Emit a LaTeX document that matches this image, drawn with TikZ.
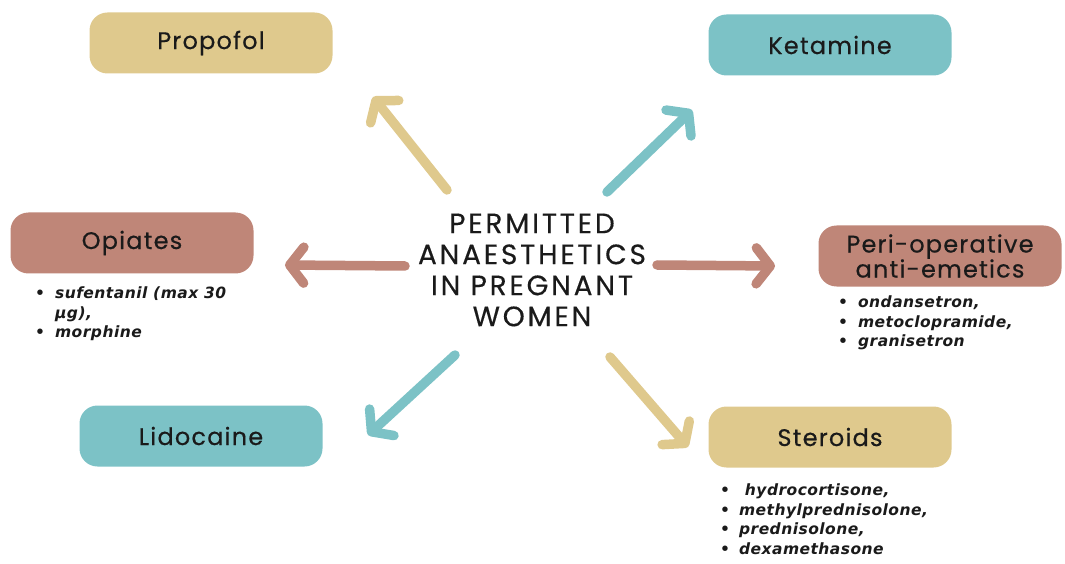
\documentclass[tikz,border=0pt]{standalone}
\usepackage{fontspec}
\setmainfont{Poppins}
\newfontfamily\boxfont[LetterSpace=5,FakeBold=0.4]{Poppins}
\newfontfamily\listfont[LetterSpace=3]{DejaVu Sans}
\newfontfamily\centerfont[LetterSpace=10,FakeBold=0.4]{Poppins}
\usetikzlibrary{arrows.meta}
\definecolor{ctan}{HTML}{DFC98D}
\definecolor{cteal}{HTML}{7CC2C6}
\definecolor{crose}{HTML}{BF8678}
\definecolor{ctext}{HTML}{1A1A1A}
\begin{document}
\begin{tikzpicture}[x=1pt,y=1pt,
  box/.style={rounded corners=18pt, minimum width=243pt, minimum height=61pt, inner sep=0pt,
    font=\boxfont\fontsize{24}{25}\selectfont, text=ctext, align=center},
  arr/.style={line width=9.5pt, line cap=round, -{Straight Barb[length=14pt,width=36pt,round]}},
  lst/.style={anchor=north west, inner sep=0pt, text=ctext,
    font=\listfont\bfseries\itshape\fontsize{15.5}{19.5}\selectfont}]
\useasboundingbox (0,0) rectangle (1065,563);
\node[box, fill=ctan] (propofol) at (211,520) {Propofol};
\node[box, fill=cteal] (ketamine) at (830,518) {Ketamine};
\node[box, fill=crose] (opiates) at (132,320) {Opiates};
\node[box, fill=crose] (peri) at (940,307) {Peri-operative\\anti-emetics};
\node[box, fill=cteal] (lido) at (201,127) {Lidocaine};
\node[box, fill=ctan] (ster) at (830,126) {Steroids};
\node[align=center, text=ctext, font=\centerfont\fontsize{28}{31}\selectfont] (center) at (532,293)
  {PERMITTED\\ANAESTHETICS\\IN PREGNANT\\WOMEN};
% lists
\node[lst] (oplist) at (35,278) {\begin{tabular}{@{}l@{\hspace{10pt}}l@{}}
  • & sufentanil (max 30\\ & µg),\\ • & morphine\end{tabular}};
\node[lst] (perilist) at (838,269) {\begin{tabular}{@{}l@{\hspace{10pt}}l@{}}
  • & ondansetron,\\ • & metoclopramide,\\ • & granisetron\end{tabular}};
\node[lst] (sterlist) at (720,81) {\begin{tabular}{@{}l@{\hspace{9pt}}l@{}}
  • & \ hydrocortisone,\\ • & methylprednisolone,\\ • & prednisolone,\\ • & dexamethasone\end{tabular}};
% arrows
\coordinate (t1) at (447,373); \coordinate (h1) at (373,466);
\coordinate (t2) at (607,371); \coordinate (h2) at (692,453);
\coordinate (t3) at (405,297); \coordinate (h3) at (285,298);
\coordinate (t4) at (657,298); \coordinate (h4) at (775,297);
\coordinate (t5) at (455,208); \coordinate (h5) at (368,128);
\coordinate (t6) at (610,206); \coordinate (h6) at (688,116);
\draw[arr, ctan] (t1) -- (h1);
\draw[arr, cteal] (t2) -- (h2);
\draw[arr, crose] (t3) -- (h3);
\draw[arr, crose] (t4) -- (h4);
\draw[arr, cteal] (t5) -- (h5);
\draw[arr, ctan] (t6) -- (h6);
\end{tikzpicture}
\end{document}
